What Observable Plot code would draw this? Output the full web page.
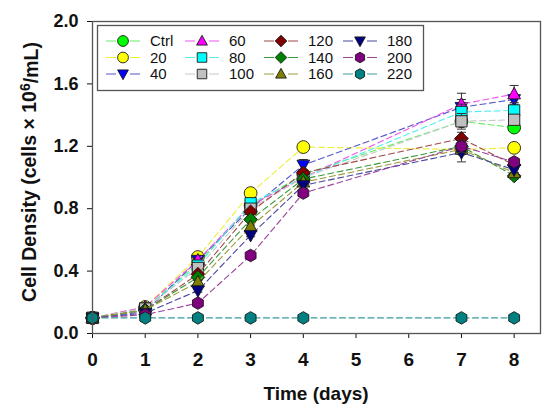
<!DOCTYPE html>
<html><head><meta charset="utf-8">
<script src="https://cdn.jsdelivr.net/npm/d3@7"></script>
<script src="https://cdn.jsdelivr.net/npm/@observablehq/plot@0.6"></script>
<style>
body{margin:0;background:#fff;}
#chart{position:relative;width:550px;height:416px;font-family:"Liberation Sans",Arial,sans-serif;}
#chart svg{display:block;}
#legend{position:absolute;left:0;top:0;}
</style>
</head><body>
<div id="chart"></div>
<script>
// ---- data ----
const days = [0, 1, 2, 3, 4, 7, 8];
const seriesNames = ["Ctrl", "20", "40", "60", "80", "100", "120", "140", "160", "180", "200", "220"];
const vCtrl = [0.10, 0.16, 0.45, 0.82, 1.02, 1.36, 1.32];
const v20   = [0.10, 0.17, 0.49, 0.90, 1.195, 1.18, 1.19];
const v40   = [0.10, 0.14, 0.47, 0.80, 1.08, 1.45, 1.50];
const v60   = [0.10, 0.17, 0.47, 0.82, 1.00, 1.47, 1.535];
const v80   = [0.10, 0.16, 0.435, 0.835, 1.00, 1.42, 1.43];
const v100  = [0.10, 0.16, 0.42, 0.80, 1.00, 1.36, 1.37];
const v120  = [0.10, 0.15, 0.38, 0.78, 1.03, 1.25, 1.08];
const v140  = [0.10, 0.15, 0.36, 0.73, 0.99, 1.20, 1.01];
const v160  = [0.10, 0.15, 0.33, 0.685, 0.97, 1.18, 1.03];
const v180  = [0.10, 0.13, 0.275, 0.63, 0.95, 1.16, 1.05];
const v200  = [0.10, 0.12, 0.195, 0.50, 0.90, 1.20, 1.10];
const v220  = [0.10, 0.10, 0.10, 0.10, 0.10, 0.10, 0.10];
// standard deviations (error bars)
const eCtrl = [0.005, 0.01, 0.01, 0.01, 0.02, 0.03, 0.02];
const e20   = [0.005, 0.01, 0.01, 0.01, 0.01, 0.03, 0.01];
const e40   = [0.005, 0.01, 0.01, 0.02, 0.035, 0.05, 0.03];
const e60   = [0.005, 0.01, 0.01, 0.01, 0.02, 0.07, 0.055];
const e80   = [0.005, 0.01, 0.01, 0.01, 0.02, 0.05, 0.02];
const e100  = [0.005, 0.01, 0.01, 0.01, 0.02, 0.05, 0.02];
const e120  = [0.005, 0.01, 0.01, 0.01, 0.02, 0.04, 0.02];
const e140  = [0.005, 0.01, 0.01, 0.01, 0.02, 0.03, 0.02];
const e160  = [0.005, 0.01, 0.01, 0.01, 0.02, 0.03, 0.02];
const e180  = [0.005, 0.01, 0.01, 0.01, 0.02, 0.06, 0.02];
const e200  = [0.005, 0.01, 0.01, 0.01, 0.02, 0.04, 0.02];
const e220  = [0.005, 0.005, 0.005, 0.005, 0.005, 0.005, 0.005];
const xTicks = [0, 1, 2, 3, 4, 5, 6, 7, 8];
const yTicks = [0, 0.4, 0.8, 1.2, 1.6, 2.0];
const xLabel = "Time (days)";

// ---- styles ----
const fillColors = ["#00ff00", "#ffff00", "#0000ff", "#ff00ff", "#00ffff", "#c0c0c0",
                    "#800000", "#008000", "#808000", "#000080", "#800080", "#008080"];
const lineColors = ["#66ee66", "#eeee33", "#5555cc", "#ee55ee", "#55eeee", "#c8c8c8",
                    "#a04848", "#3a9a3a", "#9a9a3a", "#4848a0", "#9a449a", "#3a9a9a"];

// custom symbols sized by bounding radius r = sqrt(size/pi)
const R = s => Math.sqrt(s / Math.PI);
const symCircle = {draw(c, s){ const r = R(s); c.moveTo(r, 0); c.arc(0, 0, r, 0, 2 * Math.PI); }};
const symTriUp = {draw(c, s){ const r = R(s) * 1.05; c.moveTo(0, -r); c.lineTo(r * 0.95, r * 0.72); c.lineTo(-r * 0.95, r * 0.72); c.closePath(); }};
const symTriDown = {draw(c, s){ const r = R(s) * 1.05; c.moveTo(0, r); c.lineTo(r * 0.95, -r * 0.72); c.lineTo(-r * 0.95, -r * 0.72); c.closePath(); }};
const symSquare = {draw(c, s){ const h = R(s) * 0.88; c.rect(-h, -h, 2 * h, 2 * h); }};
const symDiamond = {draw(c, s){ const r = R(s) * 1.08; c.moveTo(0, -r); c.lineTo(r, 0); c.lineTo(0, r); c.lineTo(-r, 0); c.closePath(); }};
const symHex = {draw(c, s){ const r = R(s) * 0.98; for (let k = 0; k < 6; k++){ const a = -Math.PI / 2 + k * Math.PI / 3; const x = r * Math.cos(a), y = r * Math.sin(a); k ? c.lineTo(x, y) : c.moveTo(x, y);} c.closePath(); }};
const symCap = {draw(c, s){ const r = R(s); c.moveTo(-r, 0); c.lineTo(r, 0); }};
const symbols = [symCircle, symCircle, symTriDown, symTriUp, symSquare, symSquare,
                 symDiamond, symDiamond, symTriUp, symTriDown, symHex, symHex];

const values = [vCtrl, v20, v40, v60, v80, v100, v120, v140, v160, v180, v200, v220];
const errors = [eCtrl, e20, e40, e60, e80, e100, e120, e140, e160, e180, e200, e220];
const series = seriesNames.map((name, i) => ({
  name, fill: fillColors[i], line: lineColors[i], symbol: symbols[i],
  data: days.map((d, j) => ({day: d, v: values[i][j], e: errors[i][j]}))
}));

// ---- marks ----
const marks = [
  Plot.axisX({ticks: xTicks, tickFormat: d3.format("d"), tickSize: 5, tickPadding: 14, fontSize: 19, label: null}),
  Plot.axisY({ticks: yTicks, tickFormat: d3.format(".1f"), tickSize: 5, tickPadding: 9, fontSize: 18, label: null})
];
series.forEach(s => {
  marks.push(Plot.line(s.data, {x: "day", y: "v", stroke: s.line, strokeWidth: 1.1, strokeDasharray: "6,3.5"}));
  marks.push(Plot.ruleX(s.data, {x: "day", y1: d => d.v - d.e, y2: d => d.v + d.e, stroke: "#333", strokeWidth: 1}));
  marks.push(Plot.dot(s.data, {x: "day", y: d => d.v + d.e, symbol: symCap, r: 4.5, stroke: "#333", strokeWidth: 1, fill: "none"}));
  marks.push(Plot.dot(s.data, {x: "day", y: d => d.v - d.e, symbol: symCap, r: 4.5, stroke: "#333", strokeWidth: 1, fill: "none"}));
  marks.push(Plot.dot(s.data, {x: "day", y: "v", symbol: s.symbol, r: 6.4, fill: s.fill, stroke: "#1a1a1a", strokeWidth: 0.9}));
});
marks.push(Plot.frame({stroke: "#555", strokeWidth: 1.3}));

const chart = Plot.plot({
  width: 550, height: 416,
  marginLeft: 92, marginRight: 10, marginTop: 21, marginBottom: 83,
  style: {fontFamily: "'Liberation Sans', Arial, sans-serif", fontSize: "18px", fontWeight: "bold", background: "#fff", color: "#111"},
  x: {domain: [0, 8.5]},
  y: {domain: [0, 2]},
  marks
});
document.getElementById("chart").appendChild(chart);

// axis titles
const svg = d3.select(chart);
svg.append("text").attr("x", 316).attr("y", 400).attr("text-anchor", "middle")
  .style("font-size", "19px").style("font-weight", "bold").attr("fill", "#111").text(xLabel);
const yt = svg.append("text").attr("transform", "translate(36,172) rotate(-90)").attr("text-anchor", "middle")
  .style("font-size", "19.5px").style("font-weight", "bold").attr("fill", "#111");
yt.append("tspan").text("Cell Density (cells \u00d7 10");
yt.append("tspan").attr("dy", "-0.45em").style("font-size", "14px").text("6");
yt.append("tspan").attr("dy", "0.45em").text("/mL)");

// ---- legend ----
const leg = d3.select("#chart").append("svg").attr("id", "legend").attr("width", 550).attr("height", 120);
leg.append("rect").attr("x", 97.5).attr("y", 25.5).attr("width", 326).attr("height", 65)
  .attr("fill", "#fff").attr("stroke", "#555").attr("stroke-width", 1.3);
const colSym = [123, 202, 281, 360], colText = [150, 229, 308, 387], rowY = [41, 57.5, 74];
series.forEach((s, i) => {
  const cx = colSym[Math.floor(i / 3)], cy = rowY[i % 3];
  leg.append("line").attr("x1", cx - 17).attr("x2", cx + 17).attr("y1", cy).attr("y2", cy)
    .attr("stroke", s.line).attr("stroke-width", 1.2).attr("stroke-dasharray", "10,14");
  leg.append("path").attr("transform", `translate(${cx},${cy})`)
    .attr("d", d3.symbol(s.symbol, Math.PI * 5.4 * 5.4)())
    .attr("fill", s.fill).attr("stroke", "#1a1a1a").attr("stroke-width", 0.9);
  leg.append("text").attr("x", colText[Math.floor(i / 3)]).attr("y", cy).attr("dy", "0.35em")
    .style("font-size", "15px").attr("fill", "#111").text(s.name);
});
</script>
</body></html>
